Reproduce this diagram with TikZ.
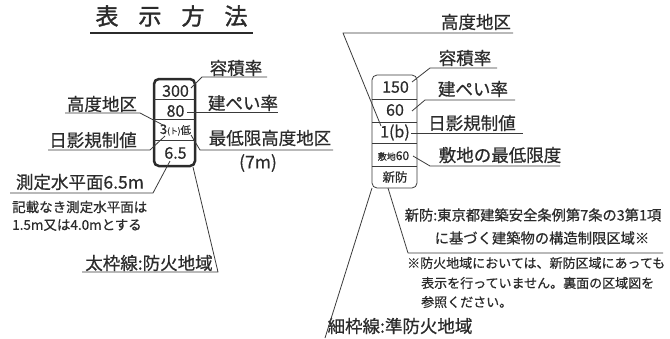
\documentclass[tikz,border=0pt]{standalone}
\usepackage{fontspec}
\setmainfont{Noto Sans CJK JP}[FakeBold=0.6]
\newfontfamily\titlefont{Noto Sans CJK JP}[FakeBold=1.6]
\newcommand\fsz[1]{\fontsize{#1}{#1}\selectfont}
\definecolor{txt}{HTML}{2B2B2B}
\definecolor{ln}{HTML}{3A3A3A}
\begin{document}
\begin{tikzpicture}[x=1pt,y=-1pt,
  lbl/.style={text=txt,inner sep=0pt,font=\fsz{17.5}},
  sml/.style={text=txt,inner sep=0pt,font=\fsz{13.5},anchor=west},
  note/.style={text=txt,inner sep=0pt,font=\fsz{14.3}},
  cell/.style={text=txt,inner sep=0pt,font=\fsz{16}},
  lead/.style={draw=ln,line width=0.8pt,line join=round},
  thickbox/.style={draw=txt,line width=2.5pt,rounded corners=5pt},
  thinbox/.style={draw=ln,line width=0.8pt,rounded corners=5pt},
  divider/.style={draw=ln,line width=0.8pt}]
\useasboundingbox (0,0) rectangle (670,338);

% title
\node[text=txt,inner sep=0pt,font=\titlefont\fsz{23}] (title) at (171.5,16)
  {表\hspace{20pt}示\hspace{20pt}方\hspace{20pt}法};
\coordinate (tl) at (90,33);
\coordinate (tr) at (253,33);
\draw[draw=txt,line width=1.8pt] (tl) -- (tr);

% ---------- left box (thick: 防火地域) ----------
\draw[thickbox] (154,79) rectangle (195,166);
\draw[divider] (154,99) -- (195,99);
\draw[divider] (154,119) -- (195,119);
\draw[divider] (154,140) -- (195,140);
\node[cell] (L1) at (175.5,91) {300};
\node[cell] (L2) at (175.5,111) {80};
\node[cell] (L3) at (175.5,130) {\fsz{13}3\fsz{8}(ト)\fsz{10.5}低};
\node[cell] (L4) at (175.5,153) {6.5};

% left labels
\node[lbl] (lyoseki) at (236,68) {容積率};
\node[lbl] (lkenpei) at (243,103) {建ぺい率};
\node[lbl] (lsaitei) at (270,138) {最低限高度地区};
\node[lbl] (l7m) at (258,163) {(7m)};
\node[lbl] (lkodo) at (102,104) {高度地区};
\node[lbl] (lnichi) at (93,140) {日影規制値};
\node[lbl] (lsokutei) at (80,182) {測定水平面6.5m};
\node[sml] (lkisai1) at (12,207) {記載なき測定水平面は};
\node[sml] (lkisai2) at (12,225) {1.5m又は4.0mとする};
\node[lbl] (lfutowaku) at (149,263) {太枠線:防火地域};

% left leaders
\coordinate (a1) at (191,88);  \coordinate (a2) at (202,77);  \coordinate (a3) at (267,77);
\draw[lead] (a1) -- (a2) -- (a3);
\coordinate (b1) at (187,112); \coordinate (b2) at (278,112);
\draw[lead] (b1) -- (b2);
\coordinate (c1) at (191,135); \coordinate (c2) at (200,150); \coordinate (c3) at (333,150);
\draw[lead] (c1) -- (c2) -- (c3);
\coordinate (d1) at (65,113);  \coordinate (d2) at (140,113); \coordinate (d3) at (163,125);
\draw[lead] (d1) -- (d2) -- (d3);
\coordinate (e1) at (48,150);  \coordinate (e2) at (150,150); \coordinate (e3) at (165,136);
\draw[lead] (e1) -- (e2) -- (e3);
\coordinate (f1) at (10,193);  \coordinate (f2) at (153,193); \coordinate (f3) at (170,161);
\draw[lead] (f1) -- (f2) -- (f3);
\coordinate (g1) at (82,272);  \coordinate (g2) at (218,272); \coordinate (g3) at (193,167);
\draw[lead] (g1) -- (g2) -- (g3);

% ---------- right box (thin: 準防火地域) ----------
\draw[thinbox] (372,75) rectangle (417,188);
\draw[divider] (372,99) -- (417,99);
\draw[divider] (372,122) -- (417,122);
\draw[divider] (372,143) -- (417,143);
\draw[divider] (372,166) -- (417,166);
\node[cell] (R1) at (395.5,87) {150};
\node[cell] (R2) at (395,110) {60};
\node[cell] (R3) at (395,132.5) {1(b)};
\node[cell] (R4) at (393.5,156) {\fsz{9}敷地\fsz{12}60};
\node[cell,font=\fsz{12.5}] (R5) at (395,177) {新防};

% right labels
\node[lbl] (rkodo) at (476,22) {高度地区};
\node[lbl] (ryoseki) at (465,58) {容積率};
\node[lbl] (rkenpei) at (473,89) {建ぺい率};
\node[lbl] (rnichi) at (472,123) {日影規制値};
\node[lbl] (rshiki) at (500,155) {敷地の最低限度};
\node[note] (rshin1) at (533,215) {新防:東京都建築安全条例第7条の3第1項};
\node[note] (rshin2) at (542,238) {に基づく建築物の構造制限区域※};
\node[sml,font=\fsz{13}] (rkome1) at (407,263) {※防火地域においては、新防区域にあっても};
\node[sml,font=\fsz{13}] (rkome2) at (421,283) {表示を行っていません。裏面の区域図を};
\node[sml,font=\fsz{13}] (rkome3) at (421,302) {参照ください。};
\node[lbl] (rhosowaku) at (400,326) {細枠線:準防火地域};

% right leaders
\coordinate (h1) at (381,126); \coordinate (h2) at (343,33);  \coordinate (h3) at (513,33);
\draw[lead] (h1) -- (h2) -- (h3);
\coordinate (i1) at (412,82);  \coordinate (i2) at (430,68);  \coordinate (i3) at (497,68);
\draw[lead] (i1) -- (i2) -- (i3);
\coordinate (j1) at (412,111); \coordinate (j2) at (425,100); \coordinate (j3) at (515,100);
\draw[lead] (j1) -- (j2) -- (j3);
\coordinate (k1) at (411,133); \coordinate (k2) at (523,133);
\draw[lead] (k1) -- (k2);
\coordinate (m1) at (413,156); \coordinate (m2) at (430,166); \coordinate (m3) at (560,166);
\draw[lead] (m1) -- (m2) -- (m3);
\coordinate (n1) at (388,188); \coordinate (n2) at (408,253); \coordinate (n3) at (663,253);
\draw[lead] (n1) -- (n2) -- (n3);
\coordinate (o1) at (372,188); \coordinate (o2) at (325,338);
\draw[lead] (o1) -- (o2);
\end{tikzpicture}
\end{document}
